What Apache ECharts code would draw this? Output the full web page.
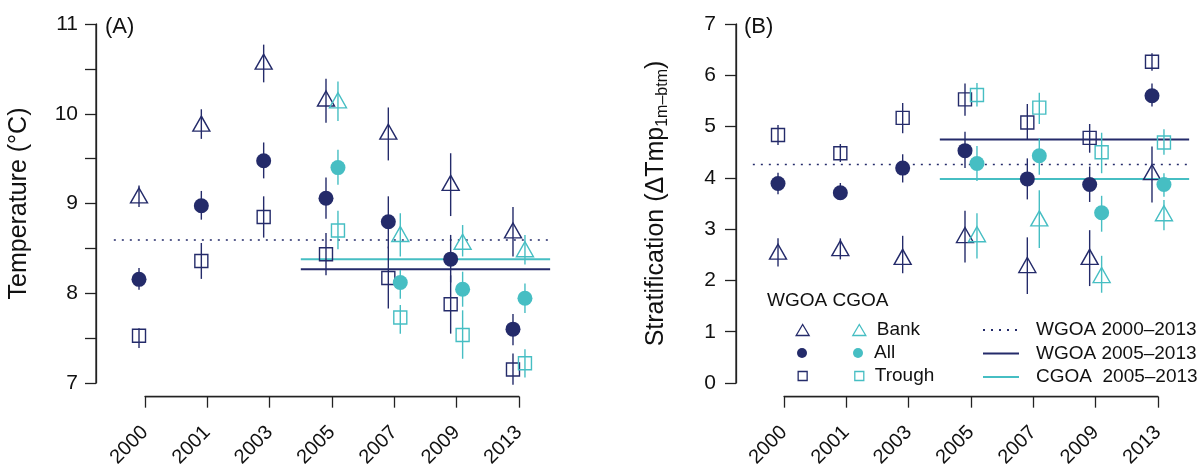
<!DOCTYPE html>
<html>
<head>
<meta charset="utf-8">
<script src="https://cdn.jsdelivr.net/npm/echarts@6/dist/echarts.min.js"></script>
<style>
html, body { margin: 0; background: #fff; }
#chart { width: 1200px; height: 470px; }
</style>
</head>
<body>
<div id="chart"></div>
<script>
const years = ['2000', '2001', '2003', '2005', '2007', '2009', '2013'];

// (A) temperature, degC: mean and error bar ends
const tempWgoaBank     = [9.09, 9.89, 10.58, 10.17, 9.80, 9.23, 8.70];
const tempWgoaBankLo   = [8.96, 9.72, 10.35, 9.90, 9.48, 8.86, 8.41];
const tempWgoaBankHi   = [9.20, 10.05, 10.77, 10.39, 10.07, 9.56, 8.96];
const tempWgoaAll      = [8.155, 8.975, 9.477, 9.058, 8.797, 8.38, 7.60];
const tempWgoaAllLo    = [8.04, 8.82, 9.28, 8.83, 8.50, 8.12, 7.42];
const tempWgoaAllHi    = [8.28, 9.14, 9.68, 9.29, 9.08, 8.65, 7.77];
const tempWgoaTrough   = [7.527, 8.36, 8.85, 8.434, 8.17, 7.877, 7.15];
const tempWgoaTroughLo = [7.39, 8.16, 8.62, 8.20, 7.83, 7.55, 6.98];
const tempWgoaTroughHi = [7.61, 8.56, 9.08, 8.67, 8.52, 8.20, 7.33];
const tempCgoaBank     = [null, null, null, 10.15, 8.66, 8.574, 8.49];
const tempCgoaBankLo   = [null, null, null, 9.92, 8.41, 8.41, 8.32];
const tempCgoaBankHi   = [null, null, null, 10.36, 8.89, 8.76, 8.65];
const tempCgoaAll      = [null, null, null, 9.40, 8.12, 8.044, 7.944];
const tempCgoaAllLo    = [null, null, null, 9.21, 7.94, 7.85, 7.78];
const tempCgoaAllHi    = [null, null, null, 9.60, 8.26, 8.24, 8.11];
const tempCgoaTrough   = [null, null, null, 8.70, 7.73, 7.535, 7.22];
const tempCgoaTroughLo = [null, null, null, 8.49, 7.55, 7.27, 7.06];
const tempCgoaTroughHi = [null, null, null, 8.92, 7.87, 7.81, 7.375];

// (B) stratification
const stratWgoaBank     = [2.56, 2.63, 2.46, 2.885, 2.30, 2.46, 4.11];
const stratWgoaBankLo   = [2.27, 2.41, 2.14, 2.35, 1.735, 1.89, 3.52];
const stratWgoaBankHi   = [2.82, 2.82, 2.87, 3.36, 2.84, 2.98, 4.61];
const stratWgoaAll      = [3.89, 3.71, 4.19, 4.53, 3.98, 3.87, 5.60];
const stratWgoaAllLo    = [3.68, 3.57, 3.91, 4.19, 3.58, 3.53, 5.39];
const stratWgoaAllHi    = [4.10, 3.90, 4.46, 4.90, 4.38, 4.22, 5.84];
const stratWgoaTrough   = [4.835, 4.48, 5.17, 5.53, 5.08, 4.78, 6.265];
const stratWgoaTroughLo = [4.64, 4.31, 4.87, 5.21, 4.74, 4.49, 6.09];
const stratWgoaTroughHi = [5.03, 4.66, 5.46, 5.84, 5.44, 5.05, 6.43];
const stratCgoaBank     = [null, null, null, 2.90, 3.21, 2.105, 3.31];
const stratCgoaBankLo   = [null, null, null, 2.43, 2.63, 1.76, 2.98];
const stratCgoaBankHi   = [null, null, null, 3.31, 3.76, 2.48, 3.57];
const stratCgoaAll      = [null, null, null, 4.28, 4.43, 3.32, 3.87];
const stratCgoaAllLo    = [null, null, null, 3.94, 4.06, 2.95, 3.63];
const stratCgoaAllHi    = [null, null, null, 4.62, 4.77, 3.65, 4.09];
const stratCgoaTrough   = [null, null, null, 5.615, 5.37, 4.50, 4.69];
const stratCgoaTroughLo = [null, null, null, 5.39, 5.05, 4.09, 4.45];
const stratCgoaTroughHi = [null, null, null, 5.85, 5.66, 4.88, 4.95];

// mean lines
const refNames   = ['WGOA 2000\u20132013', 'WGOA 2005\u20132013', 'CGOA  2005\u20132013'];
const refPeriods = [['2000', '2013'], ['2005', '2013'], ['2005', '2013']];
const tempRefs   = [8.593, 8.267, 8.378];
const stratRefs  = [4.26, 4.75, 3.98];

// y axis ranges
const tempRange  = [7, 11];
const stratRange = [0, 7];

const NAVY = '#242b6a';
const TEAL = '#46bec3';
const INK = '#111';
const AXIS_COLOR = '#222';
const FONT = '"Liberation Sans", Arial, Helvetica, sans-serif';
const COL = 62.33;   // px per year column
const DX = 0.096;    // WGOA left of the tick, CGOA right of it
const PAD_A = 0.786; // y axis to the 2000 column, in columns
const PAD_B = 0.77;
const SPAN = 6.6;    // right edge of the plotting area, in columns
const LIP = 0.032;   // grid starts a hair left of the y axis

const shapes = {
  Bank:   { symbol: 'triangle', size: [17, 15] },
  All:    { symbol: 'circle',   size: 15 },
  Trough: { symbol: 'rect',     size: 13 }
};

function pts(mean, dx) {
  return mean.map((v, i) => v == null ? null : [i + dx, v]).filter(Boolean);
}
function bars(lo, hi, dx) {
  return lo.map((v, i) => v == null ? null : [i + dx, v, i + dx, hi[i]]).filter(Boolean);
}

// straight segments [x1, y1, x2, y2] in data units: error bars and axis lines
function segments(gi, data, color, width, z) {
  return {
    type: 'custom', xAxisIndex: gi, yAxisIndex: gi, z: z, silent: true,
    data: data,
    encode: { x: [0, 2], y: [1, 3] },
    renderItem(params, api) {
      const a = api.coord([api.value(0), api.value(1)]);
      const b = api.coord([api.value(2), api.value(3)]);
      return { type: 'line', shape: { x1: a[0], y1: a[1], x2: b[0], y2: b[1] },
        style: { stroke: color, lineWidth: width } };
    }
  };
}

function points(gi, region, kind, mean, dx, color) {
  return {
    type: 'scatter', name: region + ' ' + kind, xAxisIndex: gi, yAxisIndex: gi, z: 3,
    symbol: shapes[kind].symbol, symbolSize: shapes[kind].size,
    data: pts(mean, dx),
    itemStyle: kind === 'All' ? { color: color, opacity: 1 }
      : { color: 'rgba(0,0,0,0)', borderColor: color, borderWidth: 1.4, opacity: 1 },
    emphasis: { disabled: true }
  };
}

function refLine(gi, k, value, x0) {
  const from = x0 + years.indexOf(refPeriods[k][0]) - 0.5;
  const to = x0 + years.indexOf(refPeriods[k][1]) + 0.5;
  const dotted = k === 0;
  const color = k === 2 ? TEAL : NAVY;
  return {
    type: 'line', name: refNames[k], xAxisIndex: gi, yAxisIndex: gi, z: 1,
    symbol: 'none', showSymbol: false, silent: true,
    data: [[from, value], [to, value]],
    itemStyle: { color: color },
    lineStyle: { color: color, width: dotted ? 1.6 : 2, type: dotted ? [2, 6] : 'solid' }
  };
}

function panel(gi, x0, range, d) {
  return [
    segments(gi, [[0, range[0], 0, range[1]]], AXIS_COLOR, 1.3, 10),
    segments(gi, bars(d.wbLo, d.wbHi, x0 - DX), NAVY, 1.4, 2),
    segments(gi, bars(d.waLo, d.waHi, x0 - DX), NAVY, 1.4, 2),
    segments(gi, bars(d.wtLo, d.wtHi, x0 - DX), NAVY, 1.4, 2),
    segments(gi, bars(d.cbLo, d.cbHi, x0 + DX), TEAL, 1.4, 2),
    segments(gi, bars(d.caLo, d.caHi, x0 + DX), TEAL, 1.4, 2),
    segments(gi, bars(d.ctLo, d.ctHi, x0 + DX), TEAL, 1.4, 2),
    points(gi, 'WGOA', 'Bank', d.wb, x0 - DX, NAVY),
    points(gi, 'WGOA', 'All', d.wa, x0 - DX, NAVY),
    points(gi, 'WGOA', 'Trough', d.wt, x0 - DX, NAVY),
    points(gi, 'CGOA', 'Bank', d.cb, x0 + DX, TEAL),
    points(gi, 'CGOA', 'All', d.ca, x0 + DX, TEAL),
    points(gi, 'CGOA', 'Trough', d.ct, x0 + DX, TEAL),
    refLine(gi, 0, d.refs[0], x0),
    refLine(gi, 1, d.refs[1], x0),
    refLine(gi, 2, d.refs[2], x0)
  ];
}

const series = [].concat(
  panel(0, PAD_A, tempRange, {
    wb: tempWgoaBank, wbLo: tempWgoaBankLo, wbHi: tempWgoaBankHi,
    wa: tempWgoaAll, waLo: tempWgoaAllLo, waHi: tempWgoaAllHi,
    wt: tempWgoaTrough, wtLo: tempWgoaTroughLo, wtHi: tempWgoaTroughHi,
    cb: tempCgoaBank, cbLo: tempCgoaBankLo, cbHi: tempCgoaBankHi,
    ca: tempCgoaAll, caLo: tempCgoaAllLo, caHi: tempCgoaAllHi,
    ct: tempCgoaTrough, ctLo: tempCgoaTroughLo, ctHi: tempCgoaTroughHi,
    refs: tempRefs
  }),
  panel(1, PAD_B, stratRange, {
    wb: stratWgoaBank, wbLo: stratWgoaBankLo, wbHi: stratWgoaBankHi,
    wa: stratWgoaAll, waLo: stratWgoaAllLo, waHi: stratWgoaAllHi,
    wt: stratWgoaTrough, wtLo: stratWgoaTroughLo, wtHi: stratWgoaTroughHi,
    cb: stratCgoaBank, cbLo: stratCgoaBankLo, cbHi: stratCgoaBankHi,
    ca: stratCgoaAll, caLo: stratCgoaAllLo, caHi: stratCgoaAllHi,
    ct: stratCgoaTrough, ctLo: stratCgoaTroughLo, ctHi: stratCgoaTroughHi,
    refs: stratRefs
  }),
  segments(2, [[0, 0, years.length - 1, 0]], AXIS_COLOR, 1.3, 10),
  segments(3, [[0, 0, years.length - 1, 0]], AXIS_COLOR, 1.3, 10)
);

const AXIS = { color: AXIS_COLOR, width: 1.3 };
const tickLabel = { color: INK, fontSize: 20, fontFamily: FONT };

function plotX(gi, max) {
  return { type: 'value', gridIndex: gi, min: -LIP, max: max, show: false };
}
// strip under each panel; its zero is where the year axis sits
function stripY(gi) {
  return { type: 'value', gridIndex: gi, min: -1, max: 1, show: false };
}
function yearAxis(gi) {
  return {
    type: 'category', gridIndex: gi, data: years, boundaryGap: false, position: 'bottom',
    axisLine: { show: true, onZero: true, lineStyle: AXIS },
    axisTick: { show: true, length: 11, interval: 0, lineStyle: AXIS },
    axisLabel: Object.assign({ rotate: 45, margin: 32, interval: 0 }, tickLabel),
    splitLine: { show: false }
  };
}
function valueY(gi, range, step, margin, labelFn) {
  return {
    type: 'value', gridIndex: gi, min: range[0], max: range[1], interval: step, position: 'left',
    axisLine: { show: true, onZero: true, lineStyle: AXIS },
    axisTick: { show: true, length: 11, lineStyle: AXIS },
    axisLabel: Object.assign({ margin: margin, formatter: labelFn }, tickLabel, { fontSize: 21 }),
    splitLine: { show: false }
  };
}

const textBase = { color: INK, fontFamily: FONT, fontWeight: 'normal' };
function rowLegend(kind, top, w, h) {
  return {
    data: ['WGOA ' + kind, { name: 'CGOA ' + kind, textStyle: { padding: [0, 0, 0, 6] } }],
    orient: 'horizontal', left: 802 - w / 2, top: top, padding: 0,
    itemWidth: w, itemHeight: h, itemGap: 56 - w - 5,
    selectedMode: false,
    formatter: n => n.indexOf('WGOA') === 0 ? '' : n.slice(5),
    textStyle: Object.assign({ fontSize: 19, lineHeight: 20 }, textBase),
    itemStyle: { borderWidth: 1.3 }
  };
}

const tempAxis = Object.assign(valueY(0, tempRange, 0.5, 16, v => Number.isInteger(v) ? String(v) : ''), {
  name: 'Temperature (\u00b0C)', nameLocation: 'middle', nameGap: 62,
  nameTextStyle: { color: INK, fontSize: 25, fontFamily: FONT }
});
const stratAxis = Object.assign(valueY(1, stratRange, 1, 18, v => String(v)), {
  name: '{m|Stratification (\u0394Tmp}{s|1m\u2013btm}{m|)}',
  nameLocation: 'middle', nameGap: 63,
  nameTextStyle: {
    color: INK, fontFamily: FONT,
    rich: {
      m: { fontSize: 25, lineHeight: 30, color: INK, fontFamily: FONT },
      s: { fontSize: 16, lineHeight: 16, verticalAlign: 'bottom', color: INK, fontFamily: FONT }
    }
  }
});

const lip = LIP * COL;
const option = {
  backgroundColor: '#fff',
  animation: false,
  title: [
    { text: '(A)', left: 105, top: 16, padding: 0, textStyle: Object.assign({ fontSize: 22 }, textBase) },
    { text: '(B)', left: 744, top: 16, padding: 0, textStyle: Object.assign({ fontSize: 22 }, textBase) },
    { text: 'WGOA CGOA', left: 767, top: 291, padding: 0, textStyle: Object.assign({ fontSize: 19 }, textBase) }
  ],
  legend: [
    rowLegend('Bank', 320, 13, 11),
    rowLegend('All', 343, 10, 10),
    rowLegend('Trough', 366, 9, 9),
    {
      data: refNames, orient: 'vertical', left: 982, top: 320, padding: 0,
      itemWidth: 36, itemHeight: 14, itemGap: 3.5, selectedMode: false,
      itemStyle: { opacity: 0 },
      textStyle: Object.assign({ fontSize: 19, lineHeight: 20, padding: [0, 0, 0, 12] }, textBase)
    }
  ],
  grid: [
    { left: 96 - lip, top: 24, width: (LIP + PAD_A + SPAN) * COL, height: 359 },
    { left: 736 - lip, top: 24, width: (LIP + PAD_B + SPAN) * COL, height: 359 },
    { left: 145, top: 396, width: 6 * COL, height: 4 },
    { left: 784, top: 396, width: 6 * COL, height: 4 }
  ],
  xAxis: [plotX(0, PAD_A + SPAN), plotX(1, PAD_B + SPAN), yearAxis(2), yearAxis(3)],
  yAxis: [tempAxis, stratAxis, stripY(2), stripY(3)],
  series: series
};

const chart = echarts.init(document.getElementById('chart'), null, { renderer: 'canvas' });
chart.setOption(option);
</script>
</body>
</html>
